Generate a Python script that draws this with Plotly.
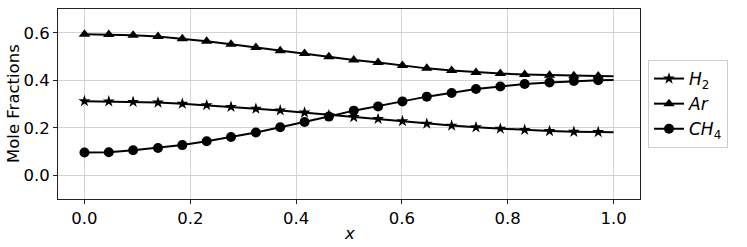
import plotly.graph_objects as go

# marker positions along x
x_marks = [0.0, 0.046, 0.092, 0.139, 0.185, 0.231, 0.277, 0.324, 0.370, 0.416, 0.462,
           0.509, 0.555, 0.601, 0.647, 0.694, 0.740, 0.786, 0.832, 0.879, 0.925, 0.971]
x_end = [0.971, 1.0]

h2 = [0.312, 0.311, 0.309, 0.306, 0.301, 0.295, 0.288, 0.280, 0.273, 0.264, 0.253,
      0.245, 0.237, 0.228, 0.217, 0.209, 0.202, 0.196, 0.191, 0.186, 0.183, 0.182]
h2_end = [0.182, 0.181]

ar = [0.594, 0.593, 0.589, 0.584, 0.575, 0.564, 0.552, 0.538, 0.524, 0.513, 0.499,
      0.485, 0.475, 0.462, 0.450, 0.441, 0.433, 0.428, 0.424, 0.421, 0.419, 0.418]
ar_end = [0.418, 0.417]

ch4 = [0.096, 0.097, 0.105, 0.115, 0.127, 0.143, 0.161, 0.180, 0.202, 0.224, 0.247,
       0.272, 0.290, 0.311, 0.331, 0.346, 0.363, 0.374, 0.384, 0.391, 0.397, 0.400]
ch4_end = [0.400, 0.401]

x_ticks = [0.0, 0.2, 0.4, 0.6, 0.8, 1.0]
y_ticks = [0.0, 0.2, 0.4, 0.6]

series = [
    ("<i>H</i><sub>2</sub>", x_marks, h2, h2_end, "star", 9),
    ("<i>Ar</i>", x_marks, ar, ar_end, "triangle-up", 10),
    ("<i>CH</i><sub>4</sub>", x_marks, ch4, ch4_end, "circle", 10),
]

fig = go.Figure()
for name, xs, ys, yend, sym, sz in series:
    fig.add_trace(go.Scatter(
        x=xs, y=ys, mode="lines+markers", name=name,
        line=dict(color="black", width=2),
        marker=dict(symbol=sym, size=sz, color="black"),
    ))
    fig.add_trace(go.Scatter(
        x=x_end, y=yend, mode="lines", showlegend=False,
        line=dict(color="black", width=2), hoverinfo="skip",
    ))

font = dict(family="DejaVu Sans", size=16.5, color="black")
axis_common = dict(
    showline=True, linecolor="#222", linewidth=1, mirror=True,
    showgrid=True, gridcolor="#d3d3d3", gridwidth=1,
    ticks="outside", ticklen=4, tickcolor="#222", zeroline=False,
    tickfont=font, automargin=False,
)
fig.update_xaxes(range=[-0.05, 1.05], tickvals=x_ticks,
                 ticktext=[f"{v:.1f}" for v in x_ticks], **axis_common)
fig.update_yaxes(range=[-0.1, 0.7], tickvals=y_ticks,
                 ticktext=[f"{v:.1f}" for v in y_ticks], **axis_common)

# plot area: x 58..640, y 9..199  (height 190, width 582)
fig.add_annotation(text="<i>x</i>", xref="paper", yref="paper", x=0.5, y=(199 - 233) / 190,
                   xanchor="center", yanchor="middle", showarrow=False, font=font)
fig.add_annotation(text="Mole Fractions", xref="paper", yref="paper", x=(13 - 58) / 582, y=0.5,
                   xanchor="center", yanchor="middle", textangle=-90,
                   showarrow=False, font=font)

fig.update_layout(
    width=747, height=247,
    margin=dict(l=58, r=107, t=9, b=48, autoexpand=False),
    plot_bgcolor="white", paper_bgcolor="white",
    font=font,
    legend=dict(x=(648 - 58) / 582, xanchor="left", y=(199 - 104) / 190, yanchor="middle",
                bordercolor="#cccccc", borderwidth=1,
                font=dict(family="DejaVu Sans", size=17),
                tracegroupgap=0),
    showlegend=True,
)

fig.write_html("out.html", config={"displayModeBar": False},
               post_script="document.body.style.margin='0';")
